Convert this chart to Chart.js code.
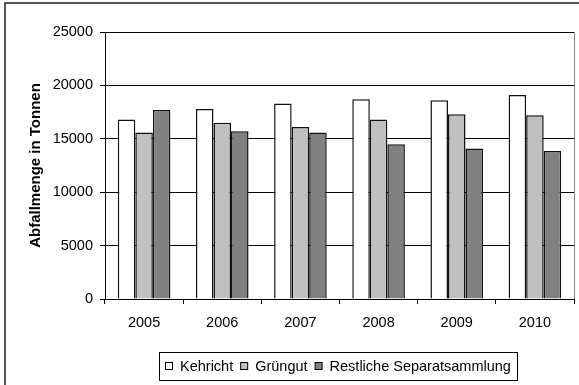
<!DOCTYPE html>
<html>
<head>
<meta charset="utf-8">
<script src="https://cdn.jsdelivr.net/npm/chart.js@4/dist/chart.umd.min.js"></script>
<style>
  html, body { margin: 0; padding: 0; background: #fff; overflow: hidden; }
  #chart { display: block; }
</style>
</head>
<body>
<canvas id="chart" width="579" height="385"></canvas>
<script>
// Abfallmengen pro Jahr (Tonnen)
var years = ["2005", "2006", "2007", "2008", "2009", "2010"];
var kehricht = [16800, 17800, 18300, 18700, 18600, 19100];
var gruengut = [15600, 16500, 16100, 16800, 17300, 17200];
var separat = [17700, 15700, 15600, 14500, 14100, 13850];
var yTicks = [0, 5000, 10000, 15000, 20000, 25000];
var seriesNames = ["Kehricht", "Grüngut", "Restliche Separatsammlung"];
var seriesColors = ["#ffffff", "#c0c0c0", "#808080"];

var FONT = "'Liberation Sans', Arial, sans-serif";

// white background, outer frame and the gray right edge of the plot area
var framePlugin = {
    id: 'frame',
    beforeDraw: function (chart) {
        var ctx = chart.ctx;
        ctx.save();
        ctx.fillStyle = '#fff';
        ctx.fillRect(0, 0, chart.width, chart.height);
        ctx.strokeStyle = '#222';
        ctx.lineWidth = 1.5;
        ctx.beginPath();
        ctx.moveTo(5, chart.height + 5);
        ctx.lineTo(5, 3);
        ctx.lineTo(chart.width + 5, 3);
        ctx.stroke();
        ctx.restore();
    },
    afterDatasetsDraw: function (chart) {
        var a = chart.chartArea;
        var ctx = chart.ctx;
        ctx.save();
        ctx.strokeStyle = '#888';
        ctx.lineWidth = 1;
        ctx.beginPath();
        ctx.moveTo(a.right + 0.5, a.top);
        ctx.lineTo(a.right + 0.5, a.bottom);
        ctx.stroke();
        ctx.restore();
    }
};

// boxed legend below the axis
var boxLegend = {
    id: 'boxLegend',
    afterDraw: function (chart) {
        var ctx = chart.ctx;
        var a = chart.chartArea;
        ctx.save();
        ctx.font = '14.5px ' + FONT;
        var marker = 7, gapAfterMarker = 8, gapItems = 7, padX = 6;
        var total = 0;
        chart.data.datasets.forEach(function (ds, i) {
            total += marker + gapAfterMarker + ctx.measureText(ds.label).width;
            if (i > 0) total += gapItems;
        });
        var boxW = Math.round(total + padX * 2);
        var boxH = 28;
        var left = Math.round((a.left + a.right) / 2 - boxW / 2) - 2;
        var top = 352;
        ctx.strokeStyle = '#000';
        ctx.lineWidth = 1;
        ctx.strokeRect(left + 0.5, top + 0.5, boxW, boxH);
        var cy = top + boxH / 2;
        var x = left + padX;
        ctx.textBaseline = 'middle';
        chart.data.datasets.forEach(function (ds) {
            ctx.fillStyle = ds.backgroundColor;
            ctx.fillRect(x + 0.5, cy - 3.5, marker, marker);
            ctx.strokeStyle = '#000';
            ctx.strokeRect(x + 0.5, cy - 3.5, marker, marker);
            x += marker + gapAfterMarker;
            ctx.fillStyle = '#000';
            ctx.fillText(ds.label, x, cy + 1);
            x += ctx.measureText(ds.label).width + gapItems;
        });
        ctx.restore();
    }
};

var datasets = [kehricht, gruengut, separat].map(function (values, i) {
    return {
        label: seriesNames[i],
        data: values,
        backgroundColor: seriesColors[i],
        borderColor: '#111',
        borderWidth: 1.5,
        categoryPercentage: 0.673,
        barPercentage: 1.0
    };
});

new Chart(document.getElementById('chart').getContext('2d'), {
    type: 'bar',
    data: { labels: years, datasets: datasets },
    plugins: [framePlugin, boxLegend],
    options: {
        responsive: false,
        animation: false,
        layout: { padding: { left: 0, top: 32, right: 5, bottom: 46 } },
        plugins: {
            legend: { display: false },
            tooltip: { enabled: false }
        },
        scales: {
            x: {
                afterFit: function (scale) { scale.height = 40; },
                grid: {
                    offset: true,
                    drawOnChartArea: false,
                    drawTicks: true,
                    tickLength: 5,
                    color: '#000'
                },
                border: { color: '#000', width: 1 },
                ticks: {
                    color: '#000',
                    padding: 10,
                    font: { family: FONT, size: 14.5 }
                }
            },
            y: {
                min: yTicks[0],
                max: yTicks[yTicks.length - 1],
                afterFit: function (scale) { scale.width = 105; },
                afterBuildTicks: function (scale) {
                    scale.ticks = yTicks.map(function (v) { return { value: v }; });
                },
                grid: {
                    color: '#000',
                    drawTicks: true,
                    tickLength: 5
                },
                border: { color: '#000', width: 1 },
                ticks: {
                    color: '#000',
                    padding: 7,
                    font: { family: FONT, size: 14.5 },
                    callback: function (value) { return String(value); }
                },
                title: {
                    display: true,
                    text: 'Abfallmenge in Tonnen',
                    color: '#000',
                    padding: { top: 27, bottom: 0 },
                    font: { family: FONT, size: 15, weight: 'bold' }
                }
            }
        }
    }
});
</script>
</body>
</html>
